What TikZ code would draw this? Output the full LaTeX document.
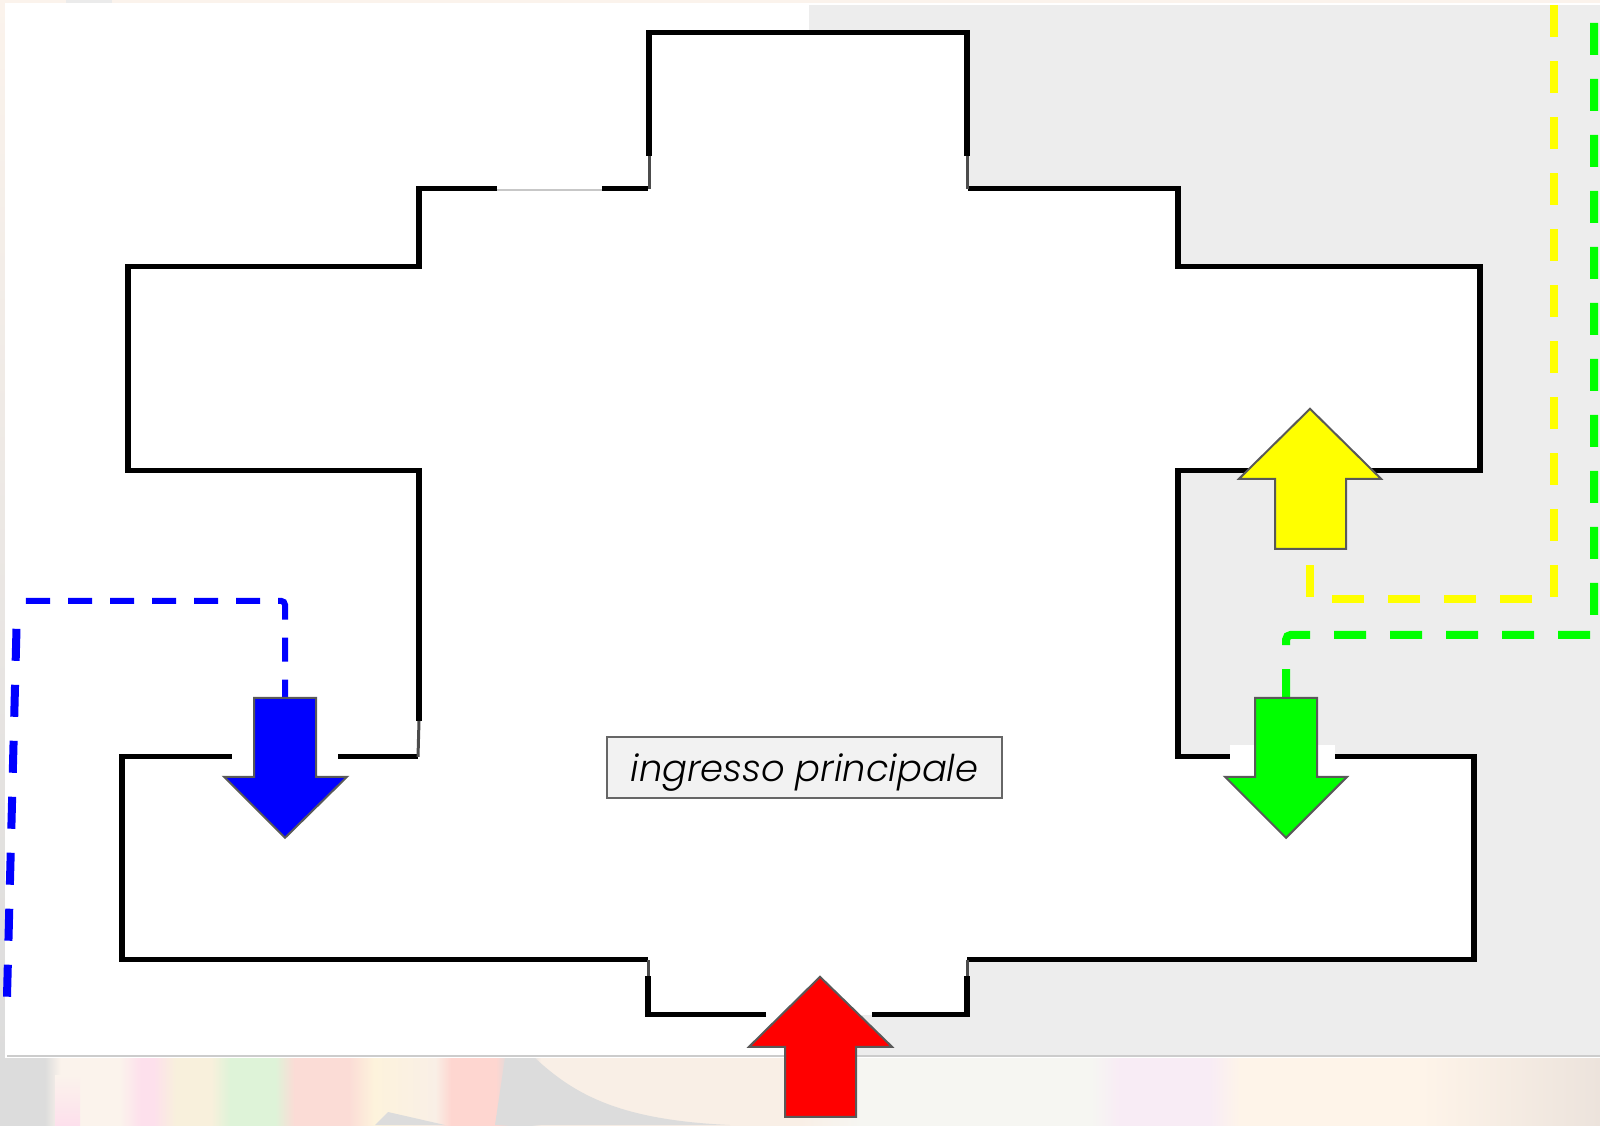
\documentclass[tikz,border=0pt]{standalone}
\usepackage{fontspec}
\newfontfamily\labelfont{Poppins Light}[ItalicFont={Poppins Light Italic}]
\definecolor{bggrey}{HTML}{DCDCDC}
\definecolor{bgcream}{HTML}{FBF3EC}
\definecolor{bgpink}{HTML}{FDE0EC}
\definecolor{bgyellow}{HTML}{F8F0DC}
\definecolor{bggreen}{HTML}{DEF3D8}
\definecolor{bgrose}{HTML}{FBDCD6}
\definecolor{bgsand}{HTML}{FDF3DC}
\definecolor{bgred}{HTML}{FED6D0}
\definecolor{bgpale}{HTML}{F9EFE6}
\definecolor{bgwhite}{HTML}{F6F6F2}
\definecolor{bglilac}{HTML}{F8ECF5}
\definecolor{bgpeach}{HTML}{FEF4E9}
\definecolor{bgtan}{HTML}{ECE3DC}
\definecolor{panelgrey}{HTML}{EDEDED}
\definecolor{bordergrey}{HTML}{595959}
\definecolor{routeyellow}{HTML}{FFFF00}
\definecolor{routegreen}{HTML}{00FF00}
\definecolor{routeblue}{HTML}{0000FF}
\definecolor{entrancered}{HTML}{FF0000}
\pgfdeclarehorizontalshading{bgbands}{100bp}{
	color(0bp)=(bggrey); color(26.4bp)=(bggrey); color(26.9bp)=(bgcream);
	color(28.75bp)=(bgcream); color(29.4bp)=(bgpink); color(29.8bp)=(bgpink);
	color(30.5bp)=(bgyellow); color(31.6bp)=(bgyellow); color(32.2bp)=(bggreen);
	color(33.6bp)=(bggreen); color(34.2bp)=(bgrose); color(35.9bp)=(bgrose);
	color(36.7bp)=(bgsand); color(38.6bp)=(bgpale); color(39.1bp)=(bgred);
	color(40.5bp)=(bgred); color(40.9bp)=(bggrey); color(41.6bp)=(bggrey);
	color(41.9bp)=(bgpale); color(50bp)=(bgpale); color(51.9bp)=(bgwhite);
	color(59.1bp)=(bgwhite); color(60bp)=(bglilac); color(62.8bp)=(bglilac);
	color(63.75bp)=(bgpeach); color(69.4bp)=(bgpeach); color(75bp)=(bgtan);
	color(100bp)=(bgtan)}
\tikzset{
	wall/.style={line width=0.52mm, color=black},
	thinwall/.style={line width=0.3mm, color=black!70},
	blockarrow/.style={line width=0.2mm, draw=bordergrey, line join=miter},
	route/.style={line width=0.8mm, dash pattern=on 0.32cm off 0.24cm},
	shortroute/.style={line width=0.6mm, dash pattern=on 0.24cm off 0.18cm}
}

\begin{document}
\begin{tikzpicture}
	\useasboundingbox (0, 0) rectangle (16, 11.25);
	%%%%% BACKDROP %%%%%
	\fill[bgcream] (0, 0) rectangle (16, 11.25);
	\shade[shading=bgbands] (0, 0) rectangle (16, 0.68);
	\fill[bggrey] (5.05, 0.67) -- (5.35, 0.67) .. controls (5.75, 0.3) and (6.2, 0.05) .. (7.3, 0) -- (4.95, 0) -- cycle;
	\fill[bggrey] (3.75, 0) -- (3.88, 0.13) -- (4.45, 0) -- cycle;
	\shade[top color=bgcream, bottom color=bgpink] (0.55, 0) rectangle (0.8, 0.5);
	\shade[top color=bgcream, bottom color=bggrey] (0, 0.67) rectangle (0.05, 11.25);
	\fill[black!8] (0.66, 11.22) rectangle (1.12, 11.25);
	\fill[white] (0.05, 0.67) rectangle (16, 11.215);
	\fill[panelgrey] (8.09, 0.70) rectangle (16, 11.2);
	\begin{scope}[yshift=-0.08mm]
	\draw[line width=0.2mm, color=black!20] (0.07, 0.70) -- (16, 0.70);
	%%%%% PLAN %%%%%
	\fill[white] (6.49, 10.93) -- (9.67, 10.93) -- (9.67, 9.37) -- (11.78, 9.37) -- (11.78, 8.59) -- (14.80, 8.59) -- (14.80, 6.55) -- (11.78, 6.55) -- (11.78, 3.69) -- (14.74, 3.69) -- (14.74, 1.66) -- (9.67, 1.66) -- (9.67, 1.11) -- (6.48, 1.11) -- (6.48, 1.66) -- (1.22, 1.66) -- (1.22, 3.69) -- (4.19, 3.69) -- (4.19, 6.55) -- (1.28, 6.55) -- (1.28, 8.59) -- (4.19, 8.59) -- (4.19, 9.37) -- (6.49, 9.37) -- cycle;
	\fill[white] (12.30, 3.65) rectangle (13.35, 3.81);
	
	\draw[wall] (6.02, 9.37) -- (6.48, 9.37);
	\draw[wall] (6.49, 9.70) -- (6.49, 10.93) -- (9.67, 10.93) -- (9.67, 9.70);
	\draw[wall] (9.68, 9.37) -- (11.78, 9.37) -- (11.78, 8.59) -- (14.80, 8.59) -- (14.80, 6.55) -- (11.78, 6.55) -- (11.78, 3.69) -- (12.30, 3.69);
	\draw[wall] (13.35, 3.69) -- (14.74, 3.69) -- (14.74, 1.66) -- (9.67, 1.66);
	\draw[wall] (9.67, 1.50) -- (9.67, 1.11) -- (8.72, 1.11);
	\draw[wall] (7.66, 1.11) -- (6.48, 1.11) -- (6.48, 1.50);
	\draw[wall] (6.48, 1.66) -- (1.22, 1.66) -- (1.22, 3.69) -- (2.32, 3.69);
	\draw[wall] (3.38, 3.69) -- (4.18, 3.69);
	\draw[wall] (4.19, 4.05) -- (4.19, 6.55) -- (1.28, 6.55) -- (1.28, 8.59) -- (4.19, 8.59) -- (4.19, 9.37) -- (4.97, 9.37);
	
	\draw[thinwall] (6.49, 9.37) -- (6.49, 9.70);
	\draw[thinwall] (9.67, 9.37) -- (9.67, 9.70);
	\draw[thinwall] (6.48, 1.50) -- (6.48, 1.66);
	\draw[thinwall] (9.67, 1.50) -- (9.67, 1.66);
	\draw[thinwall] (4.18, 3.69) -- (4.19, 4.05);
	\draw[line width=0.2mm, color=black!22] (4.97, 9.36) -- (6.02, 9.36);
	%%%%% ROUTES %%%%%
	\draw[route, color=routeyellow] (15.54, 11.21) -- (15.54, 5.27) -- (13.10, 5.27) -- (13.10, 5.77);
	\draw[route, color=routegreen] (15.94, 11.03) -- (15.94, 4.91) [rounded corners=0.05cm] -- (12.86, 4.91) -- (12.86, 4.28);
	\draw[shortroute, color=routeblue, rounded corners=0.04cm] (0.26, 5.25) -- (2.85, 5.25) -- (2.85, 4.28);
	\draw[route, color=routeblue] (0.165, 4.97) -- (0.07, 1.29);
	%%%%% ARROWS %%%%%
	\draw[blockarrow, fill=routeblue] (2.54, 4.28) -- (3.16, 4.28) -- (3.16, 3.49) -- (3.47, 3.49) -- (2.85, 2.88) -- (2.24, 3.49) -- (2.54, 3.49) -- cycle;
	\draw[blockarrow, fill=routegreen] (12.55, 4.28) -- (13.17, 4.28) -- (13.17, 3.49) -- (13.47, 3.49) -- (12.86, 2.88) -- (12.25, 3.49) -- (12.55, 3.49) -- cycle;
	\draw[blockarrow, fill=routeyellow] (12.75, 5.77) -- (13.46, 5.77) -- (13.46, 6.47) -- (13.81, 6.47) -- (13.10, 7.17) -- (12.39, 6.47) -- (12.75, 6.47) -- cycle;
	\draw[blockarrow, fill=entrancered] (7.85, 0.09) -- (8.56, 0.09) -- (8.56, 0.79) -- (8.92, 0.79) -- (8.20, 1.49) -- (7.49, 0.79) -- (7.85, 0.79) -- cycle;
	
	\node[draw=black!60, fill=black!5, line width=0.2mm, minimum width=3.95cm, minimum height=0.61cm, inner sep=0pt, text depth=0pt, font=\labelfont\itshape\fontsize{10.5}{12}\selectfont] (entrance) at (8.045, 3.58) {ingresso principale};
	\end{scope}
\end{tikzpicture}
\end{document}
